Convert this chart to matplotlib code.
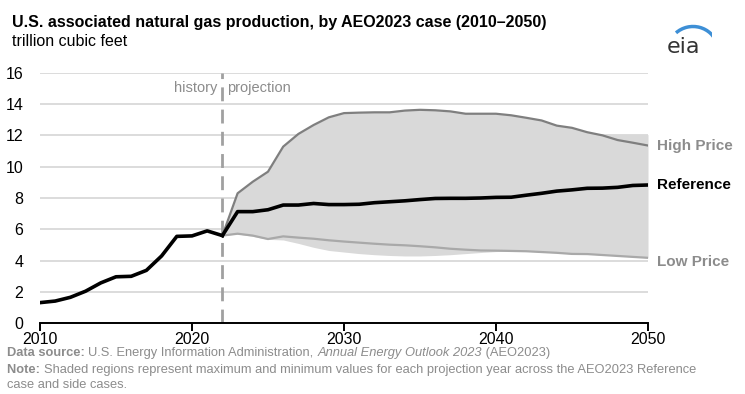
import numpy as np
import matplotlib.pyplot as plt
from matplotlib.patches import Arc
from matplotlib import font_manager as fm

# history 2010-2022
hist_years = list(range(2010, 2023))
hist_vals = [1.32, 1.42, 1.66, 2.05, 2.58, 2.97, 3.0, 3.38, 4.3, 5.55, 5.58, 5.9, 5.6]

# projections 2022-2050
proj_years = list(range(2022, 2051))
reference = [5.6, 7.13, 7.13, 7.25, 7.55, 7.55, 7.65, 7.58, 7.58, 7.6, 7.7, 7.76, 7.82,
             7.9, 7.97, 7.98, 7.98, 8.0, 8.04, 8.05, 8.18, 8.3, 8.44, 8.52, 8.62,
             8.63, 8.68, 8.8, 8.83]
high_price = [5.6, 8.3, 9.04, 9.68, 11.28, 12.09, 12.66, 13.15, 13.42, 13.45, 13.47,
              13.47, 13.58, 13.63, 13.6, 13.53, 13.38, 13.38, 13.38, 13.28, 13.12,
              12.95, 12.62, 12.48, 12.2, 12.0, 11.7, 11.53, 11.35]
low_price = [5.6, 5.72, 5.6, 5.38, 5.55, 5.47, 5.4, 5.3, 5.22, 5.15, 5.08, 5.02, 4.98,
             4.92, 4.85, 4.76, 4.7, 4.65, 4.64, 4.62, 4.6, 4.55, 4.5, 4.43, 4.42,
             4.36, 4.3, 4.24, 4.18]
# envelope across all cases
shade_max = high_price[:26] + [12.05, 12.05, 12.05]
shade_min = [5.6, 5.7, 5.55, 5.36, 5.32, 5.1, 4.85, 4.65, 4.55, 4.45, 4.38, 4.33, 4.3,
             4.3, 4.33, 4.38, 4.45, 4.52, 4.58, 4.6] + low_price[20:]

avail = {f.name for f in fm.fontManager.ttflist}
narrow = 'Liberation Sans Narrow' if 'Liberation Sans Narrow' in avail else 'Liberation Sans'
plt.rcParams['font.family'] = [narrow, 'DejaVu Sans']

W, H = 745, 394
fig = plt.figure(figsize=(W / 100, H / 100), dpi=100)
ax = fig.add_axes([40 / W, 1 - 323.3 / H, 608 / W, (323.3 - 72.7) / H])

ax.fill_between(proj_years, shade_min, shade_max, color='#d9d9d9', lw=0, zorder=1)
ax.plot(proj_years, high_price, color='#7f7f7f', lw=1.6, zorder=3)
ax.plot(proj_years, low_price, color='#a9a9a9', lw=1.6, zorder=3)
ax.plot(proj_years, reference, color='black', lw=2.6, zorder=4)
ax.plot(hist_years, hist_vals, color='black', lw=2.6, zorder=4)

ax.axvline(2022, color='#a0a0a0', lw=2, ls=(0, (5, 3)), zorder=2)
ax.text(2021.7, 15.05, 'history', ha='right', va='center', color='#8c8c8c', fontsize=10.5)
ax.text(2022.3, 15.05, 'projection', ha='left', va='center', color='#8c8c8c', fontsize=10.5)

ax.text(2050.6, high_price[-1], 'High Price', color='#8c8c8c', fontsize=11,
        fontweight='bold', va='center', ha='left', clip_on=False)
ax.text(2050.6, reference[-1], 'Reference', color='black', fontsize=11,
        fontweight='bold', va='center', ha='left', clip_on=False)
ax.text(2050.6, 3.9, 'Low Price', color='#8c8c8c', fontsize=11,
        fontweight='bold', va='center', ha='left', clip_on=False)

ax.set_xlim(2010, 2050)
ax.set_ylim(0, 16)
ax.set_yticks(range(0, 17, 2))
ax.set_xticks(range(2010, 2051, 10))
ax.grid(axis='y', color='#d9d9d9', lw=1.3)
ax.set_axisbelow(True)
for s in ['left', 'right', 'top']:
    ax.spines[s].set_visible(False)
ax.spines['bottom'].set_linewidth(1.4)
ax.tick_params(axis='y', length=0, labelsize=11.5, pad=12)
ax.tick_params(axis='x', direction='out', length=6, width=1.4, labelsize=11.5, pad=0)

fig.text(12 / W, 1 - 22 / H, 'U.S. associated natural gas production, by AEO2023 case (2010\u20132050)',
         fontsize=11.5, fontweight='bold', va='center')
fig.text(12 / W, 1 - 42 / H, 'trillion cubic feet', fontsize=11.5, va='center')

# eia logo
fig.text(684 / W, 1 - 47 / H, 'eia', fontsize=16, color='#333333', ha='center', va='center',
         family='DejaVu Sans')
logo = fig.add_axes([662 / W, 1 - 52 / H, 50 / W, 30 / H])
logo.axis('off')
logo.set_xlim(0, 1)
logo.set_ylim(0, 1)
logo.add_patch(Arc((0.62, 0.05), 1.0, 1.6, theta1=25, theta2=120, color='#3d8fd6', lw=2.5))

# footer with mixed styles
renderer = fig.canvas.get_renderer()
gray = '#8c8c8c'

def run(parts, x0, y):
    x = x0
    for txt, kw in parts:
        t = fig.text(x / W, 1 - y / H, txt, fontsize=9.3, color=gray, va='center', **kw)
        x += t.get_window_extent(renderer).width

run([('Data source: ', dict(fontweight='bold')),
     ('U.S. Energy Information Administration, ', {}),
     ('Annual Energy Outlook 2023', dict(style='italic')),
     (' (AEO2023)', {})], 7, 353)
run([('Note: ', dict(fontweight='bold')),
     ('Shaded regions represent maximum and minimum values for each projection year across the AEO2023 Reference', {})],
    7, 370)
run([('case and side cases.', {})], 7, 385)

fig.savefig('out.png', dpi=100)
